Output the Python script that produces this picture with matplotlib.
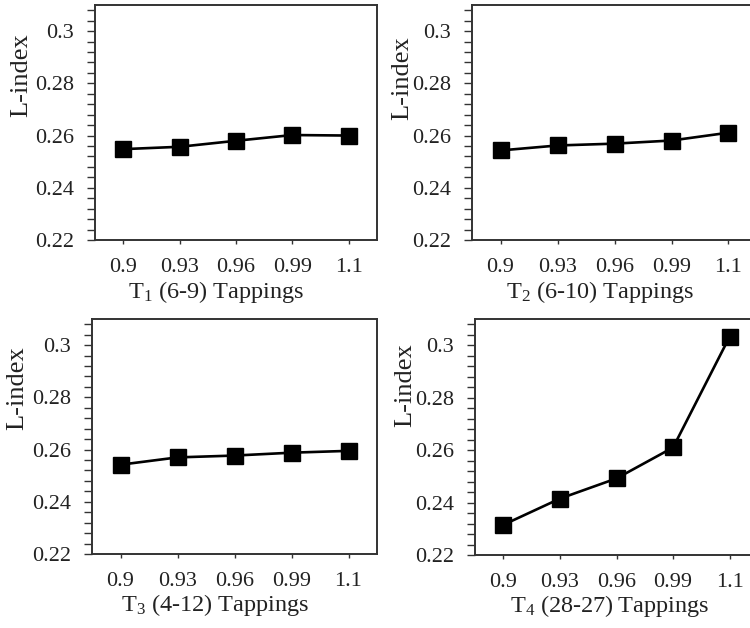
import matplotlib
matplotlib.use("Agg")
import matplotlib.pyplot as plt
from matplotlib.ticker import MultipleLocator

plt.rcParams['font.family'] = ['Liberation Serif', 'DejaVu Serif']
plt.rcParams['mathtext.fontset'] = 'custom'
plt.rcParams['mathtext.rm'] = 'Liberation Serif'
plt.rcParams['mathtext.it'] = 'Liberation Serif'

categories = ["0.9", "0.93", "0.96", "0.99", "1.1"]
t1 = [0.2548, 0.2557, 0.2580, 0.2602, 0.2600]
t2 = [0.2543, 0.2562, 0.2569, 0.2581, 0.2611]
t3 = [0.2542, 0.2570, 0.2577, 0.2588, 0.2595]
t4 = [0.2315, 0.2415, 0.2492, 0.2610, 0.3033]
series = [t1, t2, t3, t4]
xlabels = [r"$\mathrm{T}_1$ (6-9) Tappings", r"$\mathrm{T}_2$ (6-10) Tappings",
           r"$\mathrm{T}_3$ (4-12) Tappings", "$\\mathrm{T}_4$ (28-27)\u2009Tappings"]
ylabel = "L-index"
yticks = [0.22, 0.24, 0.26, 0.28, 0.30]
yticklabels = ["0.22", "0.24", "0.26", "0.28", "0.3"]

W, H = 750, 628
fig = plt.figure(figsize=(7.5, 6.28), dpi=100)

# pixel boxes: left, top, right, bottom
boxes = [(95, 5, 377, 240), (472, 5, 757, 240), (92, 319, 377, 554), (475, 319, 758, 555)]
ylab_pos = [(-0.26, 0.70), (-0.245, 0.69), (-0.263, 0.706), (-0.247, 0.72)]
xlab_pos = [(0.429, -0.222), (0.449, -0.222), (0.432, -0.218), (0.477, -0.217)]

for i, (l, t, r, b) in enumerate(boxes):
    ax = fig.add_axes([l / W, 1 - b / H, (r - l) / W, (b - t) / H])
    x = list(range(len(categories)))
    ax.plot(x, series[i], color='black', linewidth=1.9, marker='s', markersize=11,
            markerfacecolor='black', markeredgecolor='black')
    ax.set_xlim(-0.5, len(categories) - 0.5)
    ax.set_ylim(0.22, 0.31)
    ax.set_xticks(x)
    ax.set_xticklabels(categories)
    ax.set_yticks(yticks)
    ax.set_yticklabels(yticklabels)
    ax.yaxis.set_minor_locator(MultipleLocator(0.004))
    ax.tick_params(axis='y', which='both', length=6, width=1.0, pad=9, labelsize=16,
                   direction='out', color='#333333', labelcolor='#222222')
    ax.tick_params(axis='x', which='major', length=3, width=1.0, pad=10, labelsize=16,
                   direction='out', color='#333333', labelcolor='#222222')
    for s in ax.spines.values():
        s.set_linewidth(1.4)
        s.set_color('#333333')
    ax.set_ylabel(ylabel, fontsize=19, color='#222222')
    ax.yaxis.label.set_va('center')
    ax.yaxis.label.set_ha('center')
    ax.yaxis.set_label_coords(*ylab_pos[i])
    ax.set_xlabel(xlabels[i], fontsize=17.5, color='#222222')
    ax.xaxis.label.set_va('center')
    ax.xaxis.label.set_ha('center')
    ax.xaxis.set_label_coords(*xlab_pos[i])

fig.savefig("out.png", dpi=100)
